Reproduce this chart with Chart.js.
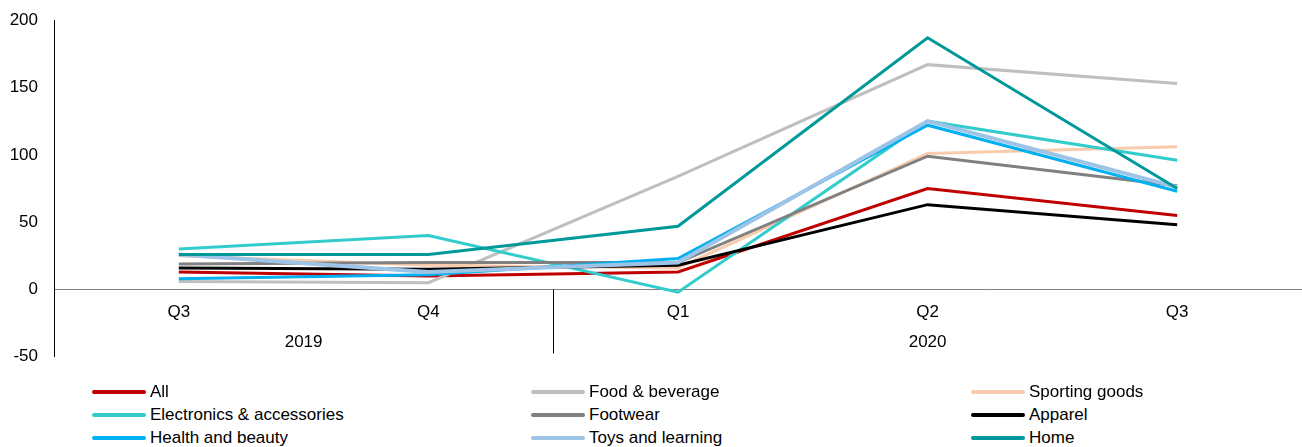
<!DOCTYPE html>
<html>
<head>
<meta charset="utf-8">
<script src="https://cdn.jsdelivr.net/npm/chart.js@4.4.1/dist/chart.umd.min.js"></script>
<style>
  body { margin: 0; background: #fff; font-family: "Liberation Sans", Arial, sans-serif; overflow: hidden; }
  #wrap { position: relative; width: 1302px; height: 447px; overflow: hidden; }
  #chartBox { position: absolute; left: 0; top: -6px; width: 1302px; height: 389px; }
  #legend { position: absolute; left: 0; top: 382px; width: 1302px; }
  .item { position: absolute; display: flex; align-items: center; font-size: 17px; color: #000; height: 20px; }
  .item span.swatch { display: inline-block; width: 54px; height: 4px; margin-right: 4px; border-radius: 2px; }
</style>
</head>
<body>
<div id="wrap">
  <div id="chartBox"><canvas id="chart"></canvas></div>
  <div id="legend"></div>
</div>
<script>
// categorias e valores
const quarters = ["Q3", "Q4", "Q1", "Q2", "Q3"];
const years = ["2019", "2019", "2020", "2020", "2020"];
const yTicks = [-50, 0, 50, 100, 150, 200];

const seriesNames = [
  "All", "Food & beverage", "Sporting goods",
  "Electronics & accessories", "Footwear", "Apparel",
  "Health and beauty", "Toys and learning", "Home"
];
const allValues = [13, 10, 13, 75, 55];
const foodValues = [6, 5, 84, 167, 153];
const sportingValues = [25, 18, 16, 101, 106];
const electronicsValues = [30, 40, -2, 125, 96];
const footwearValues = [19, 20, 20, 99, 77];
const apparelValues = [16, 15, 18, 63, 48];
const healthValues = [8, 11, 23, 122, 73];
const toysValues = [26, 13, 20, 125, 76];
const homeValues = [26, 26, 47, 187, 75];

const seriesValues = [allValues, foodValues, sportingValues, electronicsValues,
  footwearValues, apparelValues, healthValues, toysValues, homeValues];
const seriesColors = ["#c00000", "#bfbfbf", "#f8cbad", "#33cccc", "#808080",
  "#000000", "#00b0f0", "#9dc3e6", "#009999"];

const font = { family: "'Liberation Sans', Arial, sans-serif", size: 17 };

// desenha os anos e o separador entre 2019 e 2020
const yearPlugin = {
  id: "yearLabels",
  afterDraw(chart) {
    const x = chart.scales.x;
    const y = chart.scales.y;
    const ctx = chart.ctx;
    const zeroY = y.getPixelForValue(0);
    ctx.save();
    ctx.font = "17px 'Liberation Sans', Arial, sans-serif";
    ctx.fillStyle = "#000";
    ctx.textAlign = "center";
    ctx.textBaseline = "middle";
    const groups = {};
    years.forEach((yr, i) => {
      (groups[yr] = groups[yr] || []).push(x.getPixelForValue(i));
    });
    Object.keys(groups).forEach((yr) => {
      const px = groups[yr];
      ctx.fillText(yr, (px[0] + px[px.length - 1]) / 2, zeroY + 53);
    });
    for (let i = 1; i < years.length; i++) {
      if (years[i] !== years[i - 1]) {
        const sx = Math.round((x.getPixelForValue(i - 1) + x.getPixelForValue(i)) / 2) + 0.5;
        ctx.strokeStyle = "#000";
        ctx.lineWidth = 1;
        ctx.beginPath();
        ctx.moveTo(sx, zeroY);
        ctx.lineTo(sx, zeroY + 64);
        ctx.stroke();
      }
    }
    ctx.restore();
  }
};

const datasets = seriesNames.map((name, i) => ({
  label: name,
  data: seriesValues[i],
  borderColor: seriesColors[i],
  backgroundColor: seriesColors[i],
  borderWidth: name === "Toys and learning" ? 4 : 3,
  pointRadius: 0,
  tension: 0,
  order: seriesNames.length - i
}));

new Chart(document.getElementById("chart"), {
  type: "line",
  data: { labels: quarters, datasets },
  plugins: [yearPlugin],
  options: {
    responsive: true,
    maintainAspectRatio: false,
    animation: false,
    layout: { padding: { top: 14, bottom: 12, left: 0, right: 0 } },
    plugins: { legend: { display: false }, tooltip: { enabled: false } },
    scales: {
      x: {
        position: { y: 0 },
        offset: true,
        grid: { display: false, drawTicks: false },
        border: { display: true, color: "#808080", width: 1 },
        ticks: { font, color: "#000", padding: 13 }
      },
      y: {
        min: -50,
        max: 200,
        afterBuildTicks: (scale) => { scale.ticks = yTicks.map((v) => ({ value: v })); },
        afterFit: (scale) => { scale.width = 54; },
        grid: { display: false, drawTicks: false },
        border: { display: true, color: "#000", width: 1 },
        ticks: { font, color: "#000", padding: 16 }
      }
    }
  }
});

// legenda em três colunas
const legend = document.getElementById("legend");
const colLeft = [92, 531, 971];
seriesNames.forEach((name, i) => {
  const div = document.createElement("div");
  div.className = "item";
  div.style.left = colLeft[i % 3] + "px";
  div.style.top = Math.floor(i / 3) * 23 + "px";
  div.innerHTML = `<span class="swatch" style="background:${seriesColors[i]}"></span>${name}`;
  legend.appendChild(div);
});
</script>
</body>
</html>
